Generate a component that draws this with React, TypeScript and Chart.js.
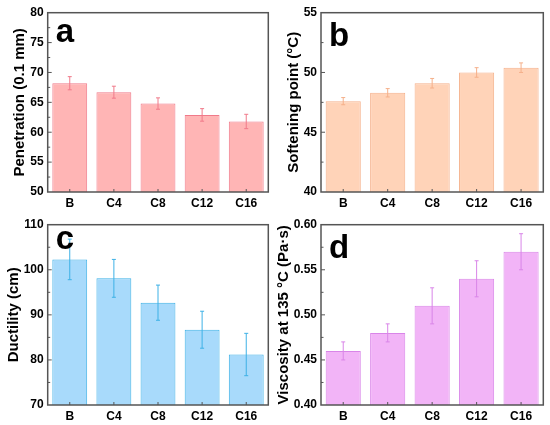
import React, { useEffect, useRef } from 'react';
import { Chart, registerables } from 'chart.js';

Chart.register(...registerables);

// samples
const categories = ['B', 'C4', 'C8', 'C12', 'C16'];

// a: penetration (0.1 mm)
const penetration = [68.2, 66.7, 64.8, 62.9, 61.8];
const penetrationErr = [1.1, 1.0, 0.95, 1.05, 1.2];

// b: softening point (°C)
const softening = [47.6, 48.3, 49.1, 50.0, 50.4];
const softeningErr = [0.3, 0.35, 0.4, 0.4, 0.4];

// c: ductility (cm)
const ductility = [102.3, 98.1, 92.7, 86.7, 81.2];
const ductilityErr = [4.5, 4.2, 3.9, 4.1, 4.7];

// d: viscosity at 135 °C (Pa·s)
const viscosity = [0.46, 0.48, 0.51, 0.54, 0.57];
const viscosityErr = [0.01, 0.01, 0.02, 0.02, 0.02];

const FONT = "'Liberation Sans', Arial, sans-serif";

type PanelProps = {
  letter: string;
  letterY: number;
  title: string;
  values: number[];
  errors: number[];
  min: number;
  max: number;
  step: number;
  decimals: number;
  fill: string;
  stroke: string;
  plotLeft: number;
  titlePad: number;
  height: number;
};

// frame, inward ticks, error bars and panel letter
const decor = {
  id: 'decor',
  afterDatasetsDraw(chart: any, _args: any, opts: any) {
    const { ctx, chartArea } = chart;
    const x = chart.scales.x;
    const y = chart.scales.y;
    const { left, right, top, bottom } = chartArea;

    // error bars
    ctx.save();
    ctx.strokeStyle = opts.errColor;
    ctx.lineWidth = 1;
    const meta = chart.getDatasetMeta(0);
    opts.values.forEach((v: number, i: number) => {
      const cx = meta.data[i].x;
      const yHi = y.getPixelForValue(v + opts.errors[i]);
      const yLo = y.getPixelForValue(v - opts.errors[i]);
      ctx.beginPath();
      ctx.moveTo(cx, yHi);
      ctx.lineTo(cx, yLo);
      ctx.moveTo(cx - 2, yHi);
      ctx.lineTo(cx + 2, yHi);
      ctx.moveTo(cx - 2, yLo);
      ctx.lineTo(cx + 2, yLo);
      ctx.stroke();
    });
    ctx.restore();

    // frame + ticks
    ctx.save();
    ctx.strokeStyle = '#555555';
    ctx.lineWidth = 1.5;
    ctx.strokeRect(left, top, right - left, bottom - top);
    ctx.lineWidth = 1;
    ctx.beginPath();
    const half = opts.step / 2;
    const n = Math.round((opts.max - opts.min) / half);
    for (let k = 1; k < n; k++) {
      const py = y.getPixelForValue(opts.min + k * half);
      const len = k % 2 === 0 ? 4 : 2.5;
      ctx.moveTo(left, py);
      ctx.lineTo(left + len, py);
    }
    categories.forEach((_c, i) => {
      const px = x.getPixelForValue(i);
      ctx.moveTo(px, bottom);
      ctx.lineTo(px, bottom - 3);
    });
    ctx.stroke();
    ctx.restore();

    // panel letter
    ctx.save();
    ctx.fillStyle = '#000000';
    ctx.font = `bold 33px ${FONT}`;
    ctx.textBaseline = 'alphabetic';
    ctx.fillText(opts.letter, left + 8, opts.letterY);
    ctx.restore();
  },
};

function Panel(p: PanelProps) {
  const canvasRef = useRef<HTMLCanvasElement | null>(null);

  useEffect(() => {
    const canvas = canvasRef.current;
    if (!canvas) return;

    const chart = new Chart(canvas, {
      type: 'bar',
      data: {
        labels: categories,
        datasets: [
          {
            data: p.values,
            backgroundColor: p.fill,
            borderColor: p.stroke,
            borderWidth: 1,
            barPercentage: 0.79,
            categoryPercentage: 1,
          },
        ],
      },
      options: {
        responsive: false,
        animation: false,
        layout: { padding: { top: 12.7, right: 6.7, left: 0, bottom: 0 } },
        plugins: {
          legend: { display: false },
          tooltip: { enabled: false },
          decor: {
            letter: p.letter,
            letterY: p.letterY,
            values: p.values,
            errors: p.errors,
            errColor: p.stroke,
            min: p.min,
            max: p.max,
            step: p.step,
          },
        } as any,
        scales: {
          x: {
            grid: { display: false, drawTicks: false },
            border: { display: false },
            ticks: {
              color: '#000000',
              padding: 4,
              font: { family: FONT, size: 12, weight: 'bold' },
            },
            afterFit: (s: any) => {
              s.height = 20;
            },
          },
          y: {
            min: p.min,
            max: p.max,
            grid: { display: false, drawTicks: false },
            border: { display: false },
            ticks: {
              stepSize: p.step,
              color: '#000000',
              padding: 4,
              font: { family: FONT, size: 12, weight: 'bold' },
              callback: (v: any) => Number(v).toFixed(p.decimals),
            },
            title: {
              display: true,
              text: p.title,
              color: '#000000',
              padding: { top: p.titlePad, bottom: 0 },
              font: { family: FONT, size: 15, weight: 'bold' },
            },
            afterFit: (s: any) => {
              s.width = p.plotLeft;
            },
          },
        },
      },
      plugins: [decor],
    });

    return () => {
      chart.destroy();
    };
  }, []);

  return <canvas ref={canvasRef} width={275} height={p.height} style={{ display: 'block' }} />;
}

export default function App() {
  return (
    <div
      style={{
        position: 'absolute',
        left: 0,
        top: 0,
        width: 550,
        height: 425,
        background: '#ffffff',
        display: 'grid',
        gridTemplateColumns: '275px 275px',
        gridTemplateRows: '212px 213px',
      }}
    >
      <Panel
        letter="a"
        letterY={42}
        title="Penetration (0.1 mm)"
        values={penetration}
        errors={penetrationErr}
        min={50}
        max={80}
        step={5}
        decimals={0}
        fill="#FFB5B5"
        stroke="#F07A8A"
        plotLeft={47.7}
        titlePad={11}
        height={212}
      />
      <Panel
        letter="b"
        letterY={46}
        title="Softening point (°C)"
        values={softening}
        errors={softeningErr}
        min={40}
        max={55}
        step={5}
        decimals={0}
        fill="#FFD3B8"
        stroke="#F5B08A"
        plotLeft={46}
        titlePad={10}
        height={212}
      />
      <Panel
        letter="c"
        letterY={37}
        title="Ductility (cm)"
        values={ductility}
        errors={ductilityErr}
        min={70}
        max={110}
        step={10}
        decimals={0}
        fill="#A8DAFB"
        stroke="#3DB1E6"
        plotLeft={47.7}
        titlePad={4.5}
        height={213}
      />
      <Panel
        letter="d"
        letterY={46}
        title="Viscosity at 135 °C (Pa·s)"
        values={viscosity}
        errors={viscosityErr}
        min={0.4}
        max={0.6}
        step={0.05}
        decimals={2}
        fill="#F2B4F7"
        stroke="#D985E8"
        plotLeft={46}
        titlePad={0}
        height={213}
      />
    </div>
  );
}
